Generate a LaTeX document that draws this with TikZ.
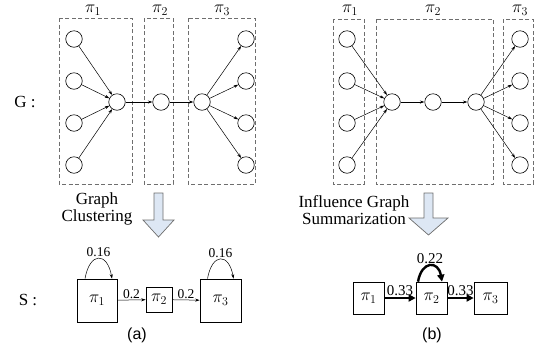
\documentclass[tikz,border=0pt]{standalone}
\usepackage{fontspec}
\setmainfont{Liberation Serif}
\newfontfamily\capsans{Liberation Sans}
\usetikzlibrary{arrows.meta, positioning, calc}
\definecolor{clustgray}{RGB}{110,110,110}
\definecolor{flowblue}{RGB}{221,231,244}

\begin{document}
\begin{tikzpicture}[x=1pt, y=-1pt,
    vert/.style={circle, draw, line width=0.6pt, minimum size=16.5pt, inner sep=0pt},
    part/.style={draw=clustgray, dash pattern=on 4pt off 2.5pt, line width=0.6pt},
    sbox/.style={rectangle, draw, line width=0.7pt, inner sep=0pt},
    arr/.style={-{Stealth[length=4.5pt, width=3pt]}, line width=0.5pt},
    fat/.style={-{Triangle[length=7pt, width=7pt]}, line width=2.4pt},
    lbl/.style={font=\fontsize{17}{17}\selectfont, align=center},
    wt/.style={font=\fontsize{13.5}{13.5}\selectfont, inner sep=1pt},
    pil/.style={font=\fontsize{18}{18}\selectfont},
    bigarr/.style={fill=flowblue, draw=clustgray, line width=0.7pt}
]
\useasboundingbox (0,0) rectangle (534,360);

% (a) original graph and its clustering
\draw[part] (59,18) rectangle (132,184);
\draw[part] (144,18) rectangle (173,184);
\draw[part] (188,18) rectangle (255,184);
\node[pil, inner sep=0.5pt] (pa1) at (93,10) {$\pi_1$};
\node[pil, inner sep=0.5pt] (pa2) at (160,10) {$\pi_2$};
\node[pil, inner sep=0.5pt] (pa3) at (222,10) {$\pi_3$};

% (b) original graph and its summarization
\draw[part] (333,19) rectangle (364,184);
\draw[part] (376,19) rectangle (493,184);
\draw[part] (503,19) rectangle (533,184);
\node[pil, inner sep=0.5pt] (pb1) at (350,10) {$\pi_1$};
\node[pil, inner sep=0.5pt] (pb2) at (433,10) {$\pi_2$};
\node[pil, inner sep=0.5pt] (pb3) at (520,10) {$\pi_3$};

\foreach \i/\yy in {1/39,2/81,3/123,4/165} {
  \node[vert] (la\i) at (74,\yy) {};
  \node[vert] (ra\i) at (246,\yy) {};
  \node[vert] (lb\i) at (347,\yy) {};
  \node[vert] (rb\i) at (520,\yy) {};
}
\node[vert] (ha) at (117,102) {};
\node[vert] (ma) at (161,102) {};
\node[vert] (ta) at (202,102) {};
\node[vert] (hb) at (392,102) {};
\node[vert] (mb) at (433,102) {};
\node[vert] (tb) at (476,102) {};

\foreach \i in {1,...,4} {
  \draw[arr] (la\i) -- (ha);
  \draw[arr] (ta) -- (ra\i);
  \draw[arr] (lb\i) -- (hb);
  \draw[arr] (tb) -- (rb\i);
}
\draw[arr] (ha) -- (ma);
\draw[arr] (ma) -- (ta);
\draw[arr] (hb) -- (mb);
\draw[arr] (mb) -- (tb);

\node[lbl] (gname) at (25,102) {G :};
\node[lbl] (sname) at (28,300) {S :};

\node[lbl] (clust) at (97,209) {Graph\\Clustering};
\node[lbl] (summ) at (354,210) {Influence Graph\\Summarization};
\draw[bigarr] (154,193) -- (163,193) -- (163,220) -- (174,220) -- (158.5,237)
  -- (143,220) -- (154,220) -- cycle;
\draw[bigarr] (424,193) -- (433,193) -- (433,218) -- (448,218) -- (428.5,235)
  -- (409,218) -- (424,218) -- cycle;

% summary graphs
\node[sbox, minimum width=40, minimum height=43, pil] (sa1) at (97,300.5) {$\pi_1$};
\node[sbox, minimum width=26, minimum height=25, pil] (sa2) at (159,299.5) {$\pi_2$};
\node[sbox, minimum width=41, minimum height=43, pil] (sa3) at (220.5,300.5) {$\pi_3$};
\draw[arr] (sa1) -- node[above, wt] {0.2} (sa2);
\draw[arr] (sa2) -- node[above, wt] {0.2} (sa3);
\draw[arr] ([xshift=-12pt]sa1.north) to[out=80, in=100, looseness=2.6]
  node[above, wt] {0.16} ([xshift=15pt]sa1.north);
\draw[arr] ([xshift=-13pt]sa3.north) to[out=80, in=100, looseness=2.6]
  node[above, wt] {0.16} ([xshift=13pt]sa3.north);

\node[sbox, minimum width=31, minimum height=32, pil] (sb1) at (368.5,298) {$\pi_1$};
\node[sbox, minimum width=31, minimum height=32, pil] (sb2) at (431.5,298) {$\pi_2$};
\node[sbox, minimum width=33, minimum height=32, pil] (sb3) at (490.5,298) {$\pi_3$};
\draw[fat] (sb1) -- node[above, wt, font=\fontsize{15}{15}\selectfont] {0.33} (sb2);
\draw[fat] (sb2) -- node[above, wt, font=\fontsize{15}{15}\selectfont] {0.33} (sb3);
\draw[fat] ([xshift=-13.5pt]sb2.north) to[out=80, in=100, looseness=2.3]
  node[above, wt, font=\fontsize{15}{15}\selectfont] {0.22} ([xshift=10.5pt]sb2.north);

\node[font=\capsans\fontsize{16}{16}\selectfont] (capa) at (137,335) {(a)};
\node[font=\capsans\fontsize{16}{16}\selectfont] (capb) at (432,335) {(b)};
\end{tikzpicture}
\end{document}
